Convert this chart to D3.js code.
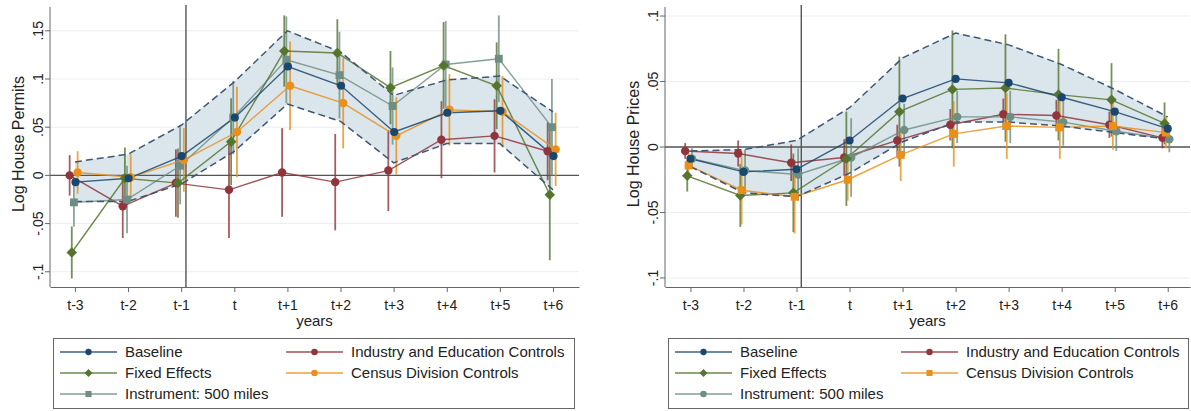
<!DOCTYPE html>
<html><head><meta charset="utf-8">
<script src="https://cdn.jsdelivr.net/npm/d3@7"></script>
<style>
body{margin:0;background:#fff;}
svg{display:block;font-family:"Liberation Sans",Arial,sans-serif;}
</style></head>
<body>
<svg id="c" width="1191" height="411"></svg>
<script>
// ---------- DATA ----------
const periods = ["t-3","t-2","t-1","t","t+1","t+2","t+3","t+4","t+5","t+6"];
const seriesNames = ["Baseline","Industry and Education Controls","Fixed Effects","Census Division Controls","Instrument: 500 miles"];

// Left panel: Log House Permits
const permitsTicks = [0.15,0.1,0.05,0,-0.05,-0.1];
const permitsTickLabels = [".15",".1",".05","0","-.05","-.1"];
const permitsBandHi = [0.014,0.022,0.052,0.097,0.150,0.128,0.083,0.099,0.103,0.066];
const permitsBandLo = [-0.027,-0.027,-0.009,0.025,0.074,0.056,0.013,0.033,0.033,-0.015];
const permitsBaseline = [-0.007,-0.003,0.020,0.060,0.113,0.093,0.045,0.065,0.067,0.020];
const permitsIndustry = [0.000,-0.032,-0.008,-0.015,0.003,-0.007,0.005,0.037,0.041,0.025];
const permitsIndustryCI = [0.021,0.033,0.035,0.050,0.046,0.050,0.042,0.040,0.038,0.030];
const permitsFixed = [-0.080,-0.003,-0.008,0.035,0.129,0.127,0.091,0.114,0.093,-0.020];
const permitsFixedCI = [0.027,0.032,0.036,0.045,0.037,0.035,0.038,0.045,0.045,0.068];
const permitsCensus = [0.003,-0.002,0.016,0.045,0.093,0.075,0.041,0.068,0.066,0.027];
const permitsCensusCI = [0.022,0.024,0.033,0.047,0.046,0.047,0.040,0.037,0.037,0.038];
const permitsInstrument = [-0.028,-0.025,0.010,0.060,0.120,0.104,0.072,0.115,0.121,0.050];
const permitsInstrumentCI = [0.025,0.035,0.040,0.038,0.045,0.045,0.040,0.045,0.045,0.050];

// Right panel: Log House Prices
const pricesTicks = [0.1,0.05,0,-0.05,-0.1];
const pricesTickLabels = [".1",".05","0","-.05","-.1"];
const pricesBandHi = [-0.003,-0.002,0.005,0.030,0.068,0.087,0.078,0.063,0.044,0.023];
const pricesBandLo = [-0.015,-0.035,-0.038,-0.020,0.004,0.019,0.019,0.016,0.011,0.006];
const pricesBaseline = [-0.009,-0.019,-0.017,0.005,0.037,0.052,0.049,0.038,0.027,0.014];
const pricesIndustry = [-0.003,-0.005,-0.012,-0.008,0.005,0.017,0.025,0.024,0.017,0.007];
const pricesIndustryCI = [0.006,0.010,0.014,0.014,0.012,0.012,0.012,0.012,0.010,0.008];
const pricesFixed = [-0.022,-0.037,-0.035,-0.009,0.027,0.044,0.045,0.040,0.036,0.018];
const pricesFixedCI = [0.012,0.024,0.030,0.036,0.042,0.045,0.041,0.035,0.028,0.016];
const pricesCensus = [-0.014,-0.033,-0.038,-0.025,-0.006,0.010,0.016,0.015,0.016,0.011];
const pricesCensusCI = [0.010,0.026,0.028,0.016,0.020,0.025,0.025,0.024,0.018,0.012];
const pricesInstrument = [-0.009,-0.018,-0.021,-0.008,0.013,0.023,0.023,0.019,0.012,0.006];
const pricesInstrumentCI = [0.008,0.016,0.020,0.030,0.020,0.020,0.020,0.018,0.015,0.010];

// ---------- STYLE ----------
const C = {navy:"#1a476f", maroon:"#90353b", green:"#55752f", orange:"#e8901a", teal:"#6e8e84"};
const svg = d3.select("#c");
const font = '"Liberation Sans",Arial,sans-serif';

function marker(sel, s, scale){
  const k = scale || 1;
  if (s.sym === "diamond") {
    sel.attr("d", d3.symbol().type(d3.symbolSquare).size(s.size*k)())
       .attr("transform", function(){ return d3.select(this).attr("transform") + " rotate(45)"; });
  } else {
    sel.attr("d", d3.symbol().type(s.sym).size(s.size*k)());
  }
  sel.attr("fill", s.color);
}

function panel(o){
  const g = svg.append("g");
  const x = d3.scaleLinear().domain(o.xDom).range([o.left,o.right]);
  const y = d3.scaleLinear().domain(o.yDom).range([o.bottom,o.top]);
  const idx = periods.map((_,i)=>i);

  g.selectAll(".grid").data(o.ticks).enter().append("line")
    .attr("x1",o.left).attr("x2",o.right).attr("y1",d=>y(d)).attr("y2",d=>y(d))
    .attr("stroke","#eaeef1").attr("stroke-width",1);

  const area = d3.area().x(i=>x(i)).y0(i=>y(o.bandLo[i])).y1(i=>y(o.bandHi[i]));
  g.append("path").datum(idx).attr("d",area).attr("fill","#dbe5ec");

  g.append("line").attr("x1",o.left).attr("x2",o.right).attr("y1",y(0)).attr("y2",y(0))
    .attr("stroke","#555").attr("stroke-width",1.3);
  g.append("line").attr("x1",x(2.09)).attr("x2",x(2.09)).attr("y1",o.top-2).attr("y2",o.bottom)
    .attr("stroke","#555").attr("stroke-width",1.4);

  o.series.forEach(s=>{
    if(!s.ci) return;
    g.selectAll(null).data(idx).enter().append("line")
      .attr("x1",i=>x(i+s.off)).attr("x2",i=>x(i+s.off))
      .attr("y1",i=>y(s.v[i]+s.ci[i])).attr("y2",i=>y(s.v[i]-s.ci[i]))
      .attr("stroke",s.color).attr("stroke-width",1.8).attr("opacity",0.8);
  });
  const line = s => d3.line().x(i=>x(i+s.off)).y(i=>y(s.v[i]));
  o.series.forEach(s=>{
    g.append("path").datum(idx).attr("d",line(s)).attr("fill","none")
      .attr("stroke",s.color).attr("stroke-width",1.4).attr("opacity",0.85);
  });
  [o.bandHi,o.bandLo].forEach(arr=>{
    g.append("path").datum(idx).attr("d",d3.line().x(i=>x(i)).y(i=>y(arr[i])))
      .attr("fill","none").attr("stroke","#3f5672").attr("stroke-width",1.5)
      .attr("stroke-dasharray","7,4");
  });
  o.series.forEach(s=>{
    g.selectAll(null).data(idx).enter().append("path")
      .attr("transform",i=>`translate(${x(i+s.off)},${y(s.v[i])})`)
      .call(sel=>sel.each(function(){ marker(d3.select(this), s, 1); }));
  });

  const xAxis = d3.axisBottom(x).tickValues(idx).tickFormat(i=>periods[i]).tickSize(5).tickSizeOuter(0);
  const ax = g.append("g").attr("transform",`translate(0,${o.bottom})`).call(xAxis);
  ax.select(".domain").attr("stroke","#666");
  ax.selectAll(".tick line").attr("stroke","#666");
  ax.selectAll(".tick text").attr("font-size",14).attr("font-family",font).attr("fill","#222").attr("dy","1.05em");

  g.append("line").attr("x1",o.left).attr("x2",o.left).attr("y1",o.top).attr("y2",o.bottom).attr("stroke","#666");
  g.selectAll(".yt").data(o.ticks).enter().append("line")
    .attr("x1",o.left-5).attr("x2",o.left).attr("y1",d=>y(d)).attr("y2",d=>y(d)).attr("stroke","#666");
  g.selectAll(".yl").data(o.ticks).enter().append("text")
    .attr("transform",d=>`translate(${o.left-12},${y(d)}) rotate(-90)`)
    .attr("text-anchor","middle").attr("dy","0.35em").attr("font-size",14).attr("fill","#222")
    .text((d,i)=>o.tickLabels[i]);

  g.append("text").attr("transform",`translate(${o.left-32},${(o.top+o.bottom)/2-3}) rotate(-90)`)
    .attr("text-anchor","middle").attr("dy","0.35em").attr("font-size",16).attr("fill","#222").text(o.title);
  g.append("text").attr("x",(o.left+o.right)/2).attr("y",326).attr("text-anchor","middle")
    .attr("font-size",15).attr("fill","#222").text("years");

  const L = o.legendX, T = 338;
  g.append("rect").attr("x",L+0.5).attr("y",T+0.5).attr("width",o.legendW).attr("height",70)
    .attr("fill","#fff").attr("stroke","#666").attr("stroke-width",1);
  [0,1,2,3,4].forEach((k,j)=>{
    const s = o.series.find(d=>d.name===seriesNames[k]);
    const col = j%2, row = Math.floor(j/2);
    const lx = L + (col===0?7:233), ly = T + 14 + row*21;
    g.append("line").attr("x1",lx).attr("x2",lx+57).attr("y1",ly).attr("y2",ly)
      .attr("stroke",s.color).attr("stroke-width",1.4).attr("opacity",0.85);
    g.append("path").attr("transform",`translate(${lx+28.5},${ly})`)
      .call(sel=>marker(sel, s, 0.6));
    g.append("text").attr("x",lx+65).attr("y",ly).attr("dy","0.36em").attr("font-size",15)
      .attr("fill","#222").text(s.name);
  });
}

panel({
  left:50, right:579, top:7, bottom:287,
  xDom:[-0.47,9.49], yDom:[-0.1158,0.1747],
  ticks:permitsTicks, tickLabels:permitsTickLabels, title:"Log House Permits",
  bandLo:permitsBandLo, bandHi:permitsBandHi, legendX:53, legendW:521,
  series:[
    {name:seriesNames[1], v:permitsIndustry, ci:permitsIndustryCI, color:C.maroon, sym:d3.symbolCircle, size:56, off:-0.1},
    {name:seriesNames[4], v:permitsInstrument, ci:permitsInstrumentCI, color:C.teal, sym:d3.symbolSquare, size:62, off:-0.02},
    {name:seriesNames[2], v:permitsFixed, ci:permitsFixedCI, color:C.green, sym:"diamond", size:55, off:-0.06},
    {name:seriesNames[3], v:permitsCensus, ci:permitsCensusCI, color:C.orange, sym:d3.symbolCircle, size:56, off:0.05},
    {name:seriesNames[0], v:permitsBaseline, ci:null, color:C.navy, sym:d3.symbolCircle, size:52, off:0.01}
  ]
});

panel({
  left:665, right:1190, top:7, bottom:287,
  xDom:[-0.48,9.42], yDom:[-0.1069,0.1069],
  ticks:pricesTicks, tickLabels:pricesTickLabels, title:"Log House Prices",
  bandLo:pricesBandLo, bandHi:pricesBandHi, legendX:668, legendW:520,
  series:[
    {name:seriesNames[1], v:pricesIndustry, ci:pricesIndustryCI, color:C.maroon, sym:d3.symbolCircle, size:56, off:-0.1},
    {name:seriesNames[4], v:pricesInstrument, ci:pricesInstrumentCI, color:C.teal, sym:d3.symbolCircle, size:56, off:0.03},
    {name:seriesNames[2], v:pricesFixed, ci:pricesFixedCI, color:C.green, sym:"diamond", size:55, off:-0.06},
    {name:seriesNames[3], v:pricesCensus, ci:pricesCensusCI, color:C.orange, sym:d3.symbolSquare, size:62, off:-0.035},
    {name:seriesNames[0], v:pricesBaseline, ci:null, color:C.navy, sym:d3.symbolCircle, size:52, off:0}
  ]
});
</script>
</body></html>
